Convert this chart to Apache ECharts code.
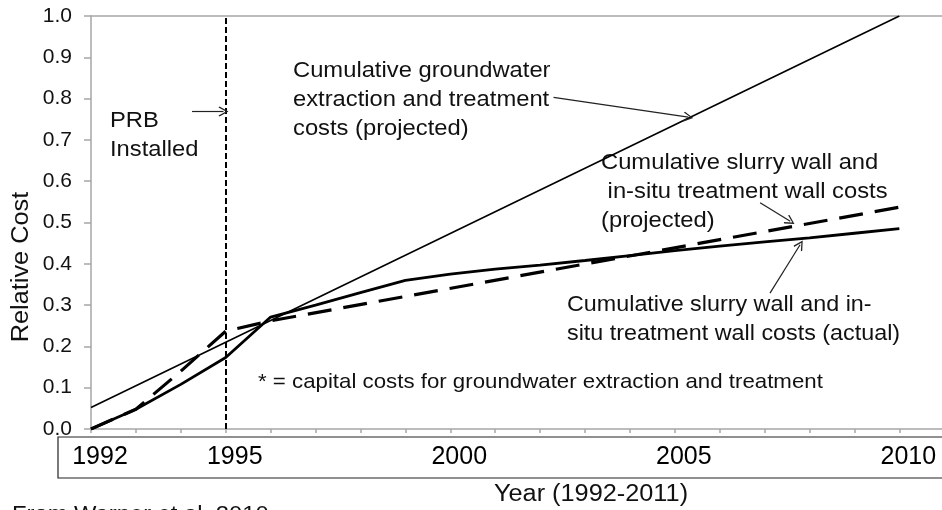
<!DOCTYPE html>
<html>
<head>
<meta charset="utf-8">
<script src="https://cdn.jsdelivr.net/npm/echarts@6/dist/echarts.min.js"></script>
<style>
  html, body { margin: 0; padding: 0; background: #fff; }
  #chart { width: 942px; height: 510px; }
</style>
</head>
<body>
<div id="chart"></div>
<script>
(function () {
  let myChart = echarts.init(document.getElementById('chart'));

  // x axis labels shown in the table under the axis
  let labelYears = [1992, 1995, 2000, 2005, 2010];

  // cumulative groundwater extraction and treatment (projected), straight line
  let gwYears = [1992, 2010];
  let gwCost = [0.052, 1.0];

  // slurry wall + in-situ treatment wall (actual)
  let actualYears = [1992, 1993, 1994, 1995, 1996, 1997, 1998, 1999, 2000, 2001,
    2002, 2003, 2004, 2005, 2006, 2007, 2008, 2009, 2010];
  let actualCost = [0, 0.048, 0.108, 0.173, 0.271, 0.30, 0.33, 0.36, 0.375, 0.387,
    0.397, 0.408, 0.42, 0.432, 0.443, 0.453, 0.463, 0.474, 0.485];

  // slurry wall + in-situ treatment wall (projected)
  let projYears = [1992, 1993, 1994, 1995, 1996, 2010];
  let projCost = [0, 0.048, 0.14, 0.237, 0.262, 0.537];

  let prbYear = 1995;

  // arrows: [fromYear, fromCost, toYear, toCost]
  let arrows = [
    [1994.25, 0.769, 1994.95, 0.769],
    [2002.3, 0.803, 2005.3, 0.755],
    [2006.9, 0.548, 2007.57, 0.503],
    [2007.12, 0.329, 2007.79, 0.446]
  ];

  function zip(xs, ys) {
    return xs.map((x, i) => [x, ys[i]]);
  }

  let font = "'Liberation Sans', Arial, sans-serif";
  let axisGray = '#a6a6a6';
  let arrowHead = 'path://M5,0 L10,9 L9,10 L5,2.5 L1,10 L0,9 Z';

  let arrowLines = arrows.map((a) => [
    { coord: [a[0], a[1]], symbol: 'none' },
    { coord: [a[2], a[3]], symbol: arrowHead, symbolSize: 10 }
  ]);

  // text is a little wider in the original, so stretch it with scaleX
  function text(x, y, str, size, sx, extra) {
    return {
      type: 'text',
      x: x,
      y: y,
      scaleX: sx,
      silent: true,
      style: Object.assign({
        text: str,
        font: size + 'px ' + font,
        fill: '#111',
        lineHeight: 29,
        textVerticalAlign: 'top'
      }, extra || {})
    };
  }

  let option = {
    animation: false,
    backgroundColor: '#fff',
    grid: {
      left: 91,
      top: 16,
      right: 0,
      bottom: 81,
      containLabel: false
    },
    xAxis: [{
      type: 'value',
      min: 1992,
      max: 2010.95,
      interval: 1,
      axisLine: { lineStyle: { color: axisGray, width: 1.5 } },
      axisTick: { length: 4, lineStyle: { color: axisGray, width: 1.5 } },
      axisLabel: {
        margin: 16,
        fontSize: 25,
        fontFamily: font,
        color: '#000',
        padding: [0, 0, 0, 18],
        showMaxLabel: false,
        formatter: function (v) {
          return labelYears.indexOf(v) > -1 ? String(v) : '';
        }
      },
      splitLine: { show: false }
    }, {
      type: 'value',
      position: 'top',
      min: 1992,
      max: 2010.95,
      axisLine: { show: true, lineStyle: { color: axisGray, width: 1.5 } },
      axisTick: { show: false },
      axisLabel: { show: false },
      splitLine: { show: false }
    }],
    yAxis: {
      type: 'value',
      min: 0,
      max: 1,
      interval: 0.1,
      axisLine: { show: true, lineStyle: { color: axisGray, width: 1.5 } },
      axisTick: { show: true, length: 7, lineStyle: { color: axisGray, width: 1.5 } },
      axisLabel: {
        margin: 19,
        fontSize: 21,
        fontFamily: font,
        color: '#111',
        formatter: function (v) { return v.toFixed(1); }
      },
      splitLine: { show: false }
    },
    series: [
      {
        name: 'groundwater',
        type: 'line',
        data: zip(gwYears, gwCost),
        showSymbol: false,
        symbol: 'none',
        lineStyle: { color: '#000', width: 1.6 },
        z: 3
      },
      {
        name: 'actual',
        type: 'line',
        data: zip(actualYears, actualCost),
        showSymbol: false,
        symbol: 'none',
        lineStyle: { color: '#000', width: 2.8 },
        z: 3,
        markLine: {
          silent: true,
          symbol: ['none', 'none'],
          label: { show: false },
          lineStyle: { color: '#000', width: 2, type: [6, 3] },
          data: [{ xAxis: prbYear }]
        }
      },
      {
        name: 'projected',
        type: 'line',
        data: zip(projYears, projCost),
        showSymbol: false,
        symbol: 'none',
        lineStyle: { color: '#000', width: 3.2, type: [24, 12] },
        z: 4,
        markLine: {
          silent: true,
          symbol: ['none', 'none'],
          label: { show: false },
          lineStyle: { color: '#222', width: 1.2, type: 'solid' },
          data: arrowLines
        }
      }
    ],
    graphic: [
      // table box round the year labels
      {
        type: 'rect',
        silent: true,
        shape: { x: 58, y: 437, width: 900, height: 41 },
        style: { fill: 'none', stroke: '#222', lineWidth: 1.2 }
      },
      text(110, 106, 'PRB\nInstalled', 22, 1.08),
      text(293, 56, 'Cumulative groundwater\nextraction and treatment\ncosts (projected)', 22, 1.08),
      text(601, 148, 'Cumulative slurry wall and\n in-situ treatment wall costs\n(projected)', 22, 1.08),
      text(567, 290, 'Cumulative slurry wall and in-\nsitu treatment wall costs (actual)', 22, 1.06),
      text(258, 382, '* = capital costs for groundwater extraction and treatment', 21, 1.06,
        { textVerticalAlign: 'middle' }),
      text(591, 495, 'Year (1992-2011)', 23, 1.1,
        { textAlign: 'center', textVerticalAlign: 'middle' }),
      // source line, cut off by the bottom edge in the original
      text(12, 504, 'From Warner et al. 2010', 22, 1.08, { lineHeight: 22 }),
      {
        type: 'text',
        x: 22,
        y: 267,
        rotation: Math.PI / 2,
        scaleX: 1.1,
        silent: true,
        style: {
          text: 'Relative Cost',
          font: '23px ' + font,
          fill: '#111',
          textAlign: 'center',
          textVerticalAlign: 'middle'
        }
      }
    ]
  };

  myChart.setOption(option);
})();
</script>
</body>
</html>
